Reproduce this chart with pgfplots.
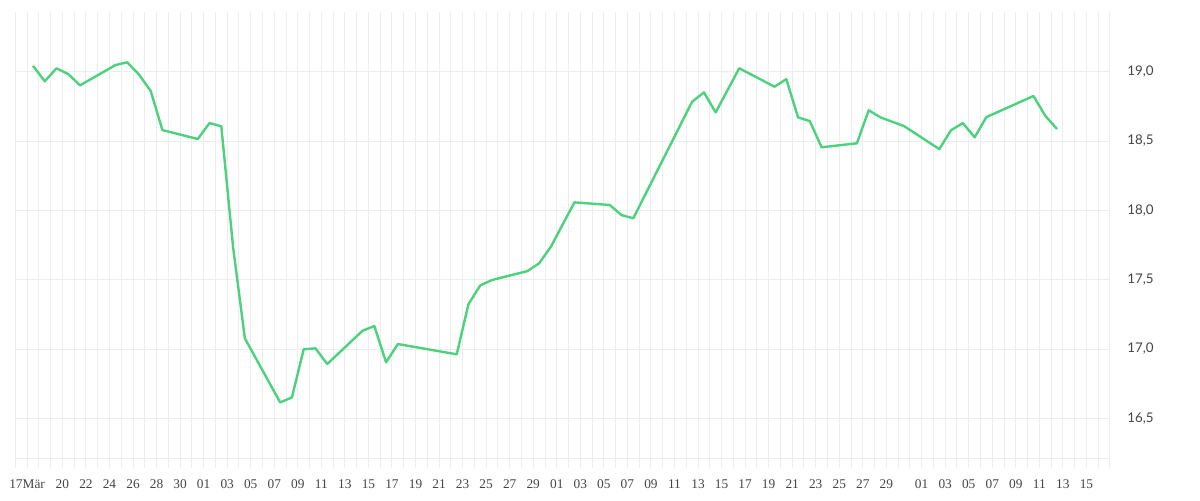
\documentclass[border=0pt]{standalone}
\usepackage{fontspec}
\setmainfont{Liberation Serif}
\newfontfamily\labelsans{Lato}
\usepackage{pgfplots}
\pgfplotsset{compat=1.18}
\definecolor{gridcol}{HTML}{EDEDED}
\definecolor{linegreen}{HTML}{4CD27C}
\definecolor{labcol}{HTML}{444444}

% x = days since 16 March (points sit mid-day), y = price
\pgfplotstableread{
x y
1.5 19.043
2.5 18.931
3.5 19.025
4.5 18.983
5.5 18.902
8.5 19.048
9.5 19.068
10.5 18.981
11.5 18.861
12.5 18.579
15.5 18.515
16.5 18.630
17.5 18.606
18.5 17.736
19.5 17.077
22.5 16.615
23.5 16.651
24.5 16.998
25.5 17.005
26.5 16.892
29.5 17.132
30.5 17.166
31.5 16.904
32.5 17.036
37.5 16.962
38.5 17.324
39.5 17.459
40.5 17.498
43.5 17.562
44.5 17.618
45.5 17.738
47.5 18.058
50.5 18.039
51.5 17.966
52.5 17.943
57.5 18.784
58.5 18.851
59.5 18.707
61.5 19.025
64.5 18.892
65.5 18.947
66.5 18.671
67.5 18.644
68.5 18.455
71.5 18.484
72.5 18.722
73.5 18.671
75.5 18.608
78.5 18.442
79.5 18.579
80.5 18.630
81.5 18.527
82.5 18.673
86.5 18.825
87.5 18.683
88.5 18.587
}\kurs

\begin{document}
\begin{tikzpicture}
\begin{axis}[
    scale only axis,
    width=821pt, height=334.5pt,
    xmin=0, xmax=93,
    ymin=16.214, ymax=19.431,
    axis x line*=bottom,
    axis y line*=right,
    x axis line style={gridcol, line width=0.75pt},
    y axis line style={draw=none},
    xtick={1,4,6,8,10,12,14,16,18,20,22,24,26,28,30,32,34,36,38,40,42,44,46,48,50,52,54,56,58,60,62,64,66,68,70,72,74,77,79,81,83,85,87,89,91},
    xticklabels={17Mär,20,22,24,26,28,30,01,03,05,07,09,11,13,15,17,19,21,23,25,27,29,01,03,05,07,09,11,13,15,17,19,21,23,25,27,29,01,03,05,07,09,11,13,15},
    minor xtick={0,...,93},
    xmajorgrids, xminorgrids,
    ytick={16.5,17,17.5,18,18.5,19},
    yticklabels={{16,5},{17,0},{17,5},{18,0},{18,5},{19,0}},
    ymajorgrids,
    grid style={gridcol, line width=0.75pt},
    minor grid style={gridcol, line width=0.75pt},
    tick align=outside,
    major tick length=7.5pt,
    minor tick length=7.5pt,
    xtick style={gridcol, line width=0.75pt},
    ytick style={draw=none},
    xticklabel style={font=\fontsize{10}{11}\selectfont, text=labcol, yshift=-5pt},
    yticklabel style={font=\labelsans\fontsize{10}{11}\selectfont, text=labcol, anchor=west, xshift=2pt},
]
\addplot[linegreen, line width=1.8pt, line join=round] table[x=x, y=y] {\kurs};
\end{axis}
\path (current axis.south west) ++(-11.5pt,-31.5pt) rectangle ++(900pt,375pt);
\end{tikzpicture}
\end{document}
